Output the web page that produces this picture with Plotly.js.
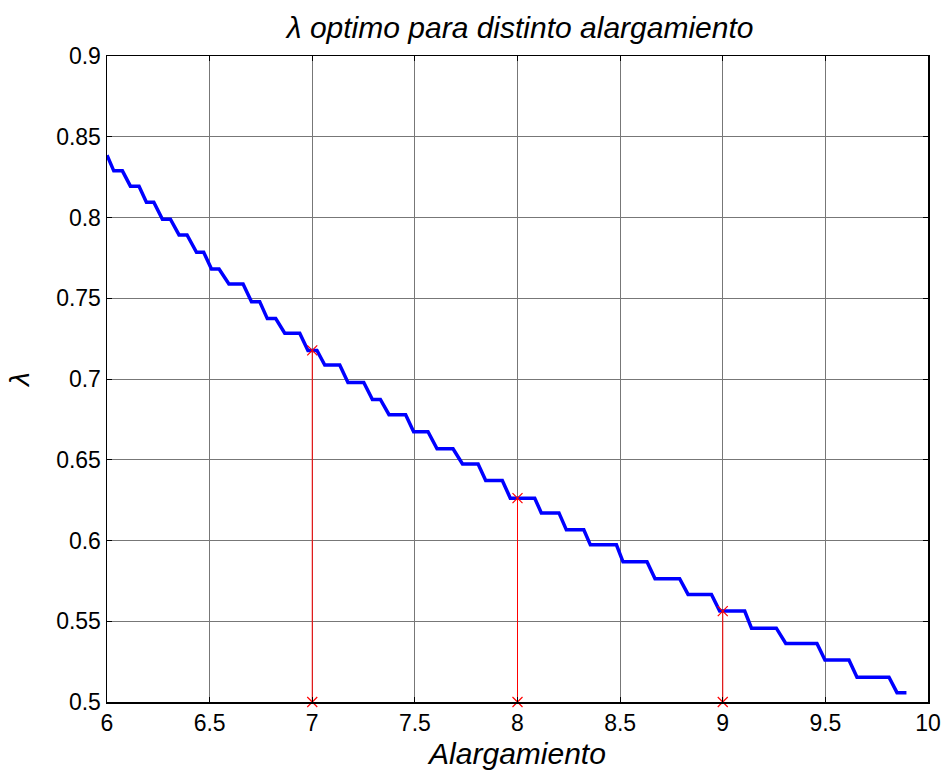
<!DOCTYPE html>
<html>
<head>
<meta charset="utf-8">
<script src="https://cdn.plot.ly/plotly-3.0.1.min.js"></script>
<style>html,body{margin:0;padding:0;background:#fff;}#chart{width:944px;height:778px;}</style>
</head>
<body>
<div id="chart"></div>
<script>
// Blue curve vertices (Alargamiento, lambda)
const curveX = [6.000, 6.033, 6.075, 6.114, 6.156, 6.192, 6.228, 6.270, 6.309, 6.351, 6.390, 6.436, 6.471, 6.509, 6.546, 6.594, 6.663, 6.704, 6.744, 6.781, 6.822, 6.866, 6.939, 6.979, 7.023, 7.061, 7.134, 7.174, 7.251, 7.293, 7.332, 7.374, 7.455, 7.494, 7.564, 7.608, 7.686, 7.732, 7.808, 7.845, 7.926, 7.965, 8.084, 8.116, 8.202, 8.238, 8.323, 8.355, 8.482, 8.514, 8.631, 8.670, 8.790, 8.831, 8.945, 8.985, 9.107, 9.140, 9.261, 9.307, 9.459, 9.498, 9.615, 9.654, 9.810, 9.849, 9.895];
const curveY = [0.8386, 0.8289, 0.8289, 0.8194, 0.8194, 0.8094, 0.8094, 0.7989, 0.7989, 0.7892, 0.7892, 0.7785, 0.7785, 0.7681, 0.7681, 0.7589, 0.7589, 0.7479, 0.7479, 0.7374, 0.7374, 0.7284, 0.7284, 0.7177, 0.7177, 0.7086, 0.7086, 0.6978, 0.6978, 0.6873, 0.6873, 0.6779, 0.6779, 0.6674, 0.6674, 0.6568, 0.6568, 0.6474, 0.6474, 0.6371, 0.6371, 0.6262, 0.6262, 0.6171, 0.6171, 0.6066, 0.6066, 0.5973, 0.5973, 0.5868, 0.5868, 0.5763, 0.5763, 0.5666, 0.5666, 0.5563, 0.5563, 0.5457, 0.5457, 0.5363, 0.5363, 0.5260, 0.5260, 0.5153, 0.5153, 0.5058, 0.5058];

// Red stems at selected alargamiento values
const stemX = [7, 8, 9];
const stemTop = [0.7177, 0.6262, 0.5563];
const stemBase = 0.5;

const xTicks = [6, 6.5, 7, 7.5, 8, 8.5, 9, 9.5, 10];
const yTicks = [0.5, 0.55, 0.6, 0.65, 0.7, 0.75, 0.8, 0.85, 0.9];
const yTickText = ['0.5', '0.55', '0.6', '0.65', '0.7', '0.75', '0.8', '0.85', '0.9'];

const sx = [], sy = [];
stemX.forEach((x, i) => { sx.push(x, x, null); sy.push(stemBase, stemTop[i], null); });

const traces = [
  {
    x: curveX, y: curveY, type: 'scatter', mode: 'lines',
    line: {color: '#0000ff', width: 3.5}, hoverinfo: 'x+y'
  },
  {
    x: sx, y: sy, type: 'scatter', mode: 'lines+markers',
    line: {color: '#ff0000', width: 1},
    marker: {symbol: 'x-thin', size: 10, line: {color: '#ff0000', width: 1.2}, color: '#ff0000'},
    cliponaxis: false
  }
];

const font = 'Liberation Sans, Arial, sans-serif';
const axisCommon = {
  showline: true, linecolor: '#000', linewidth: 1.5, mirror: 'allticks',
  ticks: 'inside', ticklen: 5, tickwidth: 1, tickcolor: '#000',
  showgrid: true, gridcolor: '#777777', gridwidth: 1,
  zeroline: false, tickfont: {family: font, size: 23, color: '#000'}
};

const layout = {
  width: 944, height: 778,
  margin: {l: 107, r: 16, t: 56, b: 76},
  paper_bgcolor: '#fff', plot_bgcolor: '#fff',
  showlegend: false,
  title: {
    text: '<i>λ optimo para distinto alargamiento</i>',
    font: {family: font, size: 30, color: '#000'},
    x: 0.551, xanchor: 'center', y: 0.965, yref: 'container', yanchor: 'middle'
  },
  xaxis: Object.assign({}, axisCommon, {
    range: [6, 10], tickvals: xTicks, ticktext: xTicks.map(String),
    title: {text: '<i>Alargamiento</i>', font: {family: font, size: 30, color: '#000'}, standoff: 8}
  }),
  yaxis: Object.assign({}, axisCommon, {
    range: [0.5, 0.9], tickvals: yTicks, ticktext: yTickText,
    title: {text: '<i>λ</i>', font: {family: font, size: 28, color: '#000'}, standoff: 18}
  })
};

Plotly.newPlot('chart', traces, layout, {displayModeBar: false, staticPlot: true});
</script>
</body>
</html>
